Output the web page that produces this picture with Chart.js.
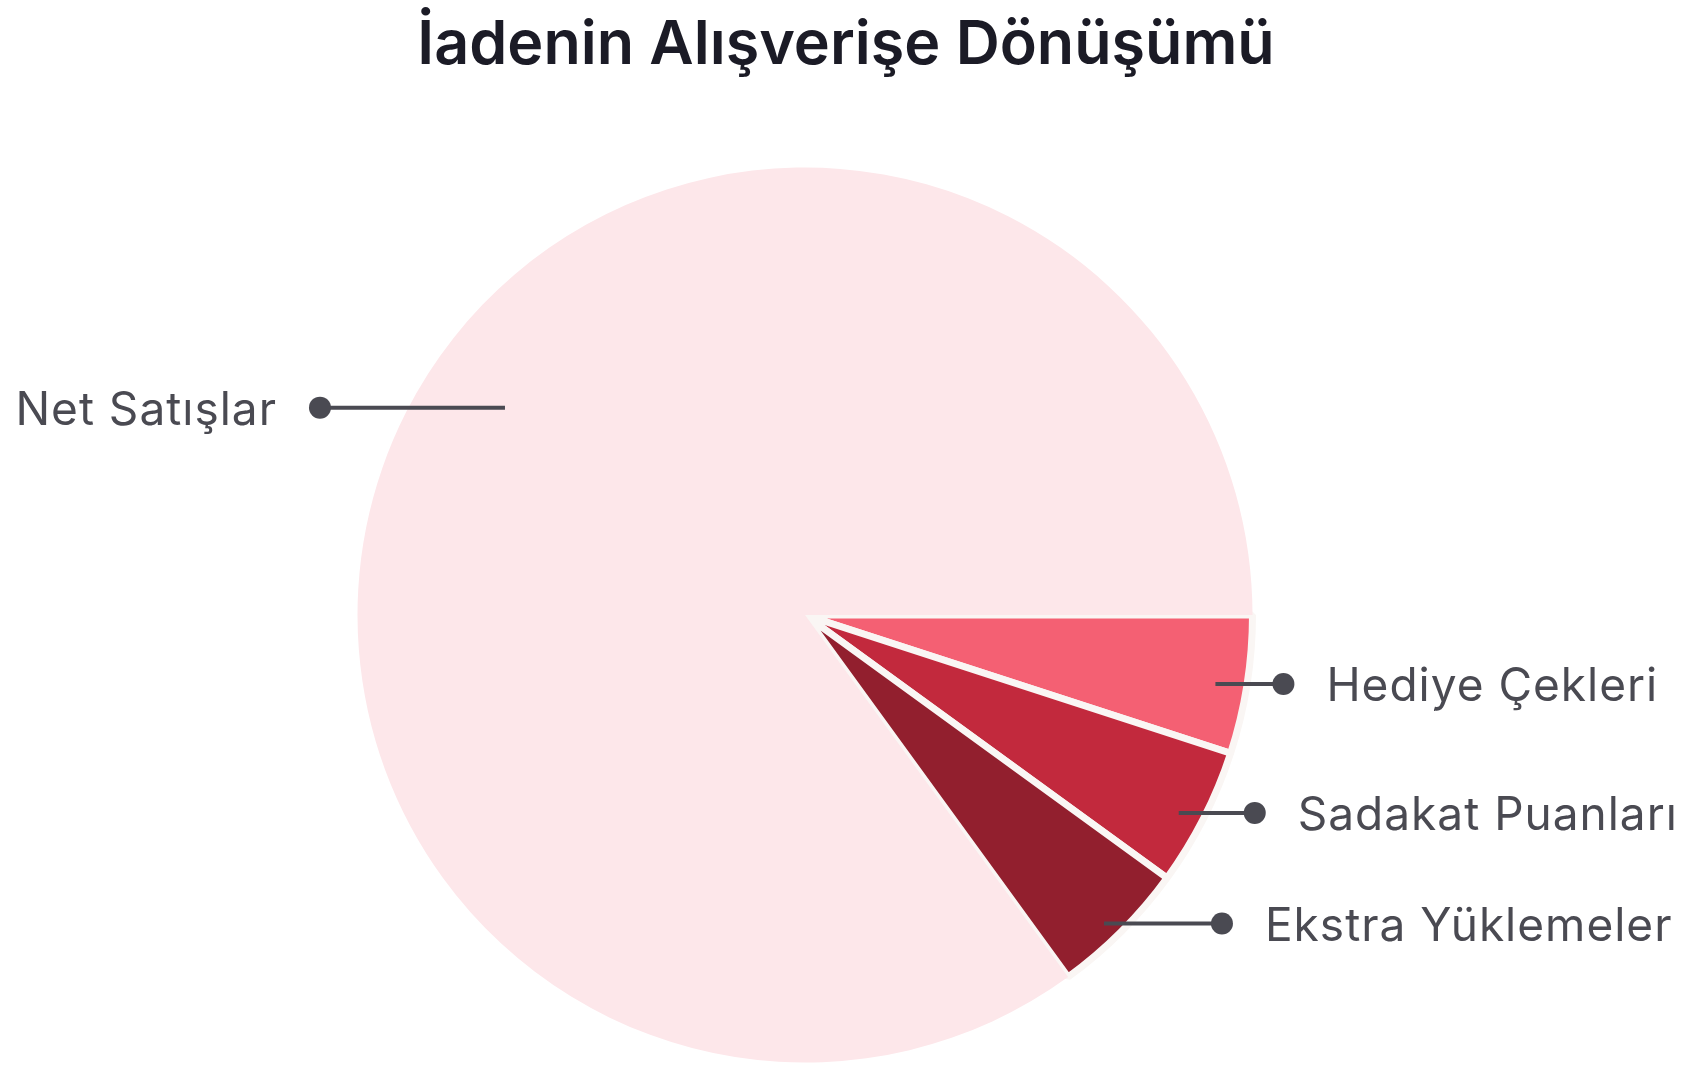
<!DOCTYPE html>
<html>
<head>
<meta charset="utf-8">
<script src="https://cdn.jsdelivr.net/npm/chart.js@4.4.1/dist/chart.umd.min.js"></script>
<style>
  html, body { margin: 0; padding: 0; background: #ffffff; }
  #wrap { position: relative; width: 1692px; height: 1067px; overflow: hidden; }
  #title {
    position: absolute; left: 0; right: 0; top: 0; margin: 0;
    text-align: center; font: 600 61px "Inter"; color: #1b1b26; line-height: 84px;
  }
  canvas { position: absolute; left: 0; top: 0; }
</style>
</head>
<body>
<div id="wrap">
  <h1 id="title">İadenin Alışverişe Dönüşümü</h1>
  <canvas id="returnChart" width="1692" height="1067"></canvas>
</div>
<script>
// ======================================
// Data
// ======================================

const categories = ["Hediye Çekleri", "Sadakat Puanları", "Ekstra Yüklemeler", "Net Satışlar"];
const shares = [5, 5, 5, 85];
const sliceColors = ["#f46073", "#c2293d", "#921f2e", "#fde7ea"];

// leader line layout per slice (where along the slice, how far in, elbow length)
const leaderLayout = [
  { t: 0.53, radius: 0.93, length: 68 },
  { t: 0.55, radius: 0.945, length: 76 },
  { t: 0.55, radius: 0.96, length: 118 },
  { t: 0.525, radius: 0.815, length: 185 },
];

const LABEL_COLOR = "#4a4a52";
const LABEL_FONT = '400 46px "Inter"';

// ======================================
// Leader Lines Plugin
// ======================================

const leaderLines = {
  id: "leaderLines",
  afterDatasetsDraw(chart) {
    const { ctx } = chart;
    const meta = chart.getDatasetMeta(0);

    ctx.save();
    ctx.strokeStyle = LABEL_COLOR;
    ctx.fillStyle = LABEL_COLOR;
    ctx.lineWidth = 4;
    ctx.font = LABEL_FONT;
    ctx.letterSpacing = "1px";
    ctx.textBaseline = "alphabetic";

    meta.data.forEach((arc, i) => {
      const { x, y, startAngle, endAngle, outerRadius } = arc.getProps(
        ["x", "y", "startAngle", "endAngle", "outerRadius"],
        true,
      );
      const layout = leaderLayout[i];
      const angle = startAngle + (endAngle - startAngle) * layout.t;
      const r = outerRadius * layout.radius;
      const sx = x + Math.cos(angle) * r;
      const sy = y + Math.sin(angle) * r;
      const side = Math.cos(angle) >= 0 ? 1 : -1;
      const dotX = sx + side * layout.length;

      ctx.beginPath();
      ctx.moveTo(sx, sy);
      ctx.lineTo(dotX, sy);
      ctx.stroke();

      ctx.beginPath();
      ctx.arc(dotX, sy, 11, 0, Math.PI * 2);
      ctx.fill();

      ctx.textAlign = side > 0 ? "left" : "right";
      ctx.fillText(categories[i], dotX + side * 43, sy + 17);
    });

    ctx.restore();
  },
};

// ======================================
// Chart
// ======================================

new Chart(document.getElementById("returnChart"), {
  type: "pie",
  data: {
    labels: categories,
    datasets: [
      {
        data: shares,
        backgroundColor: sliceColors,
        borderColor: ["#faf6f4", "#faf6f4", "#faf6f4", "#fde7ea"],
        borderWidth: [7, 7, 7, 0],
        hoverOffset: 0,
      },
    ],
  },
  options: {
    responsive: false,
    animation: false,
    rotation: 90,
    layout: { padding: { top: 164, bottom: 1, left: 250, right: 332 } },
    plugins: {
      legend: { display: false },
      title: { display: false },
      tooltip: { enabled: false },
    },
  },
  plugins: [leaderLines],
});
</script>
</body>
</html>
